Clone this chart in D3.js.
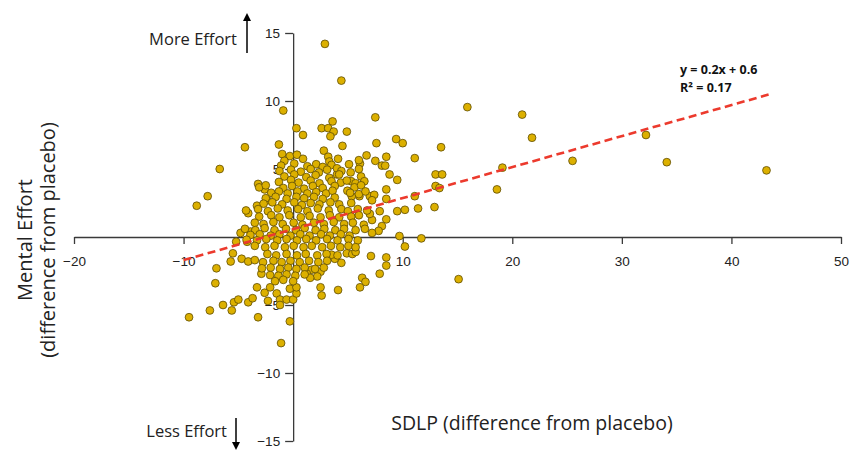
<!DOCTYPE html>
<html>
<head>
<meta charset="utf-8">
<script src="https://cdn.jsdelivr.net/npm/d3@7"></script>
<style>
  body { margin: 0; background: #fff; }
  svg { display: block; font-family: "Open Sans", "Noto Sans", sans-serif; }
  .axis path, .axis line { stroke: #3a3a3a; stroke-width: 1.3; }
  .axis text { font-size: 13.5px; fill: #222; }
  .dot { fill: #dcb000; stroke: #5e4c05; stroke-width: 0.8; }
  .fit { fill: none; stroke: #ec3a2d; stroke-width: 2.6; stroke-dasharray: 8 4.5; }
</style>
</head>
<body>
<div id="chart"></div>
<script>
'use strict'
// axis tick values (0 is not labelled on either axis)
const xTicks = [-20, -10, 10, 20, 30, 40, 50]
const yTicks = [-15, -10, -5, 5, 10, 15]

// regression line as drawn, and its label
const fitSlope = 0.228
const fitIntercept = 0.58
const fitRange = [-10, 43.5]
const fitLabel = ["y = 0.2x + 0.6", "R² = 0.17"]

// [SDLP difference, mental effort difference] - scattered points
const spreadPoints = [
  [2.9,14.2],[4.4,11.5],[-0.9,9.3],[7.5,8.8],[3.6,8.5],[2.6,8.0],[3.2,8.0],[3.7,7.75],[0.3,8.0],[0.9,7.5],
  [4.9,7.75],[3.4,7.4],[-4.4,6.6],[-1.3,6.8],[7.6,6.9],[9.4,7.2],[10.0,6.9],[11.1,5.8],[-6.7,5.0],[-7.8,3.0],
  [-8.8,2.3],[-4.1,1.75],[-3.3,2.3],[-3.2,3.9],[-2.6,3.5],[11.1,3.0],[11.4,2.1],[9.5,1.9],[10.2,2.0],[8.5,3.5],
  [6.7,6.0],[6.1,5.4],[7.5,5.6],[8.1,5.25],[8.5,5.9],[8.4,5.25],[8.8,4.6],[9.5,4.2],
  [15.9,9.55],[20.9,9.0],[21.8,7.3],[32.2,7.5],[25.5,5.6],[34.1,5.5],[43.2,4.9],[19.1,5.1],[18.6,3.5],[13.5,6.6],
  [13.0,4.6],[13.6,4.6],[13.0,3.75],[13.35,3.6],[12.9,2.2],[15.1,-3.1],
  [9.7,0.07],[11.7,-0.1],[10.2,-0.7],[8.5,-1.5],[8.5,-2.1],[7.1,-1.4],[7.9,-2.7],[6.3,-3.0],[6.6,-3.3],[6.1,-3.7],
  [4.1,-3.9],[4.4,-1.9],[3.8,-1.6],[3.5,-1.3],[4.9,-1.2],[5.4,-1.25],[5.7,-1.1],[2.6,-4.3],[2.5,-3.7],[2.5,-2.55],
  [-9.5,-5.9],[-7.6,-5.4],[-6.4,-5.0],[-5.6,-5.4],[-5.4,-4.8],[-5.0,-4.6],[-7.0,-2.3],[-7.1,-3.4],[-5.7,-1.8],[-5.5,-1.2],
  [-4.7,-1.6],[-4.1,-1.8],[-3.5,-1.7],[-4.1,-4.8],[-3.7,-4.5],[-3.3,-3.7],[-3.2,-5.9],[-2.6,-4.1],[-2.3,-4.7],[-2.9,-2.7],
  [-0.3,-6.2],[-1.1,-7.8],[-5.2,-0.35],[-4.2,-0.35],[-4.8,0.3],[-3.9,0.4],
  [-2.1,-3.7],[-1.5,-4.15],[-1.2,-4.6],[-1.2,-5.0],[-0.6,-4.6],[0.0,-4.6],[0.3,-4.15],[-0.3,-3.8],[0.3,-3.7],
  [2.2,-2.9],[1.7,-2.4],[1.25,-2.7],[1.55,-3.0],
  [8.5,2.8],[7.9,1.9],[8.5,1.3],[8.1,0.8],[7.8,0.45],[7.2,1.25],[7.0,1.7],[7.2,0.3],
  [2.8,6.35],[4.5,6.7],[3.2,5.9],[4.0,4.6],[4.35,4.0],[5.3,4.1],
  [7.0,3.0],[7.4,3.1],[7.2,2.7],[6.05,3.0],[5.35,3.0],[4.95,3.4],[-2.35,2.7]
]

// dense cluster around the origin, read band by band
const clusterPoints = [
  [-1.0,6.1],[-0.3,5.95],[0.35,6.05],
  [-0.8,5.6],[0.9,5.75],[3.3,5.55],[4.1,5.75],[6.0,5.65],
  [-1.1,5.25],[0.1,5.4],[1.3,5.2],[2.1,5.35],[2.7,5.15],[3.5,5.3],[4.0,5.05],[5.1,5.35],
  [-1.25,4.85],[-0.2,4.95],[0.7,4.8],[1.6,5.0],[2.35,4.75],[3.1,4.95],[4.4,4.85],[5.25,4.75],[6.0,5.0],
  [-0.8,4.45],[0.1,4.6],[1.2,4.4],[2.05,4.55],[3.3,4.35],[4.2,4.6],[6.2,4.45],
  [-1.3,4.05],[-0.2,4.2],[0.5,4.0],[1.6,4.15],[2.4,3.95],[3.5,4.1],[4.9,4.15],[5.7,3.95],[6.5,4.1],
  [-3.1,3.65],[-2.5,3.8],[-0.9,3.6],[-0.1,3.75],[1.0,3.55],[1.8,3.75],[2.7,3.6],[3.8,3.75],[5.6,3.65],[6.2,3.8],
  [-2.0,3.25],[-1.3,3.35],[-0.5,3.2],[0.4,3.35],[1.3,3.2],[2.1,3.3],[3.0,3.2],[3.6,3.4],[5.2,3.25],[6.0,3.15],[6.6,3.35],
  [-2.5,2.85],[-1.6,2.95],[-0.6,2.8],[0.3,2.95],[1.0,2.85],[1.9,2.95],[2.7,2.8],[3.8,2.9],
  [-2.7,2.45],[-1.9,2.55],[-1.0,2.4],[0.1,2.55],[0.8,2.35],[1.6,2.5],[2.4,2.4],[3.4,2.55],[4.2,2.4],[5.3,2.5],
  [-4.3,1.95],[-3.2,2.05],[-2.3,1.9],[-1.4,2.1],[-0.5,1.95],[0.45,2.05],[1.3,1.9],[2.25,2.1],[3.25,1.95],[4.4,2.05],[5.0,1.9],[5.9,2.05],[6.75,1.95],
  [-3.1,1.5],[-2.0,1.6],[-1.25,1.45],[-0.35,1.6],[0.7,1.45],[1.5,1.55],[2.5,1.45],[3.35,1.6],[4.2,1.45],[5.3,1.5],[6.0,1.6],
  [-3.5,1.05],[-2.7,0.95],[-1.8,1.1],[-0.95,0.95],[0.05,1.05],[0.85,0.9],[1.9,1.05],[2.8,0.95],[3.7,1.1],[4.65,0.95],[5.45,1.05],[6.45,0.9],
  [-4.4,0.6],[-3.45,0.5],[-2.6,0.65],[-1.7,0.5],[-0.65,0.6],[0.25,0.5],[1.05,0.65],[2.05,0.5],[2.85,0.6],[3.85,0.5],[4.65,0.6],[5.7,0.5],[6.55,0.6],
  [-3.9,0.15],[-3.05,0.2],[-2.05,0.1],[-1.25,0.2],[-0.25,0.1],[0.65,0.2],[1.5,0.1],[2.55,0.2],[3.35,0.1],[4.35,0.2],[5.15,0.1],
  [-4.25,-0.2],[-3.3,-0.25],[-2.45,-0.15],[-1.45,-0.25],[-0.6,-0.15],[0.35,-0.25],[1.2,-0.15],[2.1,-0.25],[3.1,-0.15],[4.05,-0.25],[5.05,-0.15],[5.9,-0.25],
  [-3.5,-0.65],[-2.55,-0.75],[-1.7,-0.65],[-0.75,-0.75],[0.05,-0.65],[0.95,-0.75],[1.7,-0.65],[2.65,-0.75],[3.45,-0.65],[4.3,-0.75],[5.05,-0.65],[5.7,-0.75],
  [-2.35,-1.25],[-1.55,-1.35],[-0.6,-1.25],[0.35,-1.35],[1.15,-1.25],[2.2,-1.35],[3.05,-1.25],[4.05,-1.35],
  [-2.75,-1.85],[-1.8,-1.75],[-1.05,-1.85],[-0.25,-1.75],[0.6,-1.85],[1.45,-1.75],[2.3,-1.85],[3.1,-1.75],
  [-2.85,-2.3],[-2.05,-2.25],[-1.2,-2.35],[-0.45,-2.25],[0.3,-2.35],[1.05,-2.25],[2.0,-2.35],[2.8,-2.25],
  [-2.1,-2.8],[-1.35,-2.85],[-0.6,-2.75],[0.2,-2.85],[1.05,-2.75],
  [-1.65,-3.25],[-0.9,-3.15],[0.0,-3.25]
]

const width = 860, height = 451
const svg = d3.select("#chart").append("svg")
  .attr("width", width)
  .attr("height", height)

const x = d3.scaleLinear().domain([-20, 50]).range([74, 841])
const y = d3.scaleLinear().domain([-15, 15]).range([441, 33])

// x axis through y = 0
svg.append("g")
  .attr("class", "axis")
  .attr("transform", `translate(0,${y(0)})`)
  .call(d3.axisBottom(x).tickValues(xTicks).tickSize(7).tickSizeOuter(0).tickPadding(12))

// y axis through x = 0
svg.append("g")
  .attr("class", "axis")
  .attr("transform", `translate(${x(0)},0)`)
  .call(d3.axisLeft(y).tickValues(yTicks).tickSize(8).tickSizeOuter(0).tickPadding(5))

svg.selectAll(".axis .domain").attr("fill", "none")

// points
const allPoints = spreadPoints.concat(clusterPoints)
svg.append("g")
  .selectAll("circle")
  .data(allPoints)
  .join("circle")
    .attr("class", "dot")
    .attr("cx", d => x(d[0]))
    .attr("cy", d => y(d[1]))
    .attr("r", 3.9)

// regression line on top
svg.append("line")
  .attr("class", "fit")
  .attr("x1", x(fitRange[0]))
  .attr("y1", y(fitSlope*fitRange[0] + fitIntercept))
  .attr("x2", x(fitRange[1]))
  .attr("y2", y(fitSlope*fitRange[1] + fitIntercept))

svg.append("g")
  .selectAll("text")
  .data(fitLabel)
  .join("text")
    .attr("x", 680)
    .attr("y", (d, i) => 74 + i*18)
    .attr("font-size", 12.5)
    .attr("font-weight", "bold")
    .attr("fill", "#111")
    .text(d => d)

// axis titles
svg.append("text")
  .attr("x", 532)
  .attr("y", 430)
  .attr("text-anchor", "middle")
  .attr("font-size", 19.5)
  .attr("fill", "#222")
  .text("SDLP (difference from placebo)")

const yTitle = svg.append("text")
  .attr("transform", "translate(32,240) rotate(-90)")
  .attr("text-anchor", "middle")
  .attr("font-size", 20)
  .attr("fill", "#222")
yTitle.append("tspan").attr("x", 0).attr("dy", 0).text("Mental Effort")
yTitle.append("tspan").attr("x", 0).attr("dy", 23).text("(difference from placebo)")

// direction hints with arrows
svg.append("defs").append("marker")
  .attr("id", "head")
  .attr("viewBox", "0 0 10 10")
  .attr("refX", 5).attr("refY", 5)
  .attr("markerWidth", 8).attr("markerHeight", 8)
  .attr("markerUnits", "userSpaceOnUse")
  .attr("orient", "auto")
  .append("path")
    .attr("d", "M0,0 L10,5 L0,10 Z")
    .attr("fill", "#000")

svg.append("text")
  .attr("x", 237).attr("y", 45)
  .attr("text-anchor", "end")
  .attr("font-size", 16.5)
  .attr("fill", "#222")
  .text("More Effort")
svg.append("line")
  .attr("x1", 247).attr("y1", 53).attr("x2", 247).attr("y2", 17)
  .attr("stroke", "#000").attr("stroke-width", 1.5)
  .attr("marker-end", "url(#head)")

svg.append("text")
  .attr("x", 227).attr("y", 437)
  .attr("text-anchor", "end")
  .attr("font-size", 16.5)
  .attr("fill", "#222")
  .text("Less Effort")
svg.append("line")
  .attr("x1", 236).attr("y1", 418).attr("x2", 236).attr("y2", 446)
  .attr("stroke", "#000").attr("stroke-width", 1.5)
  .attr("marker-end", "url(#head)")
</script>
</body>
</html>
